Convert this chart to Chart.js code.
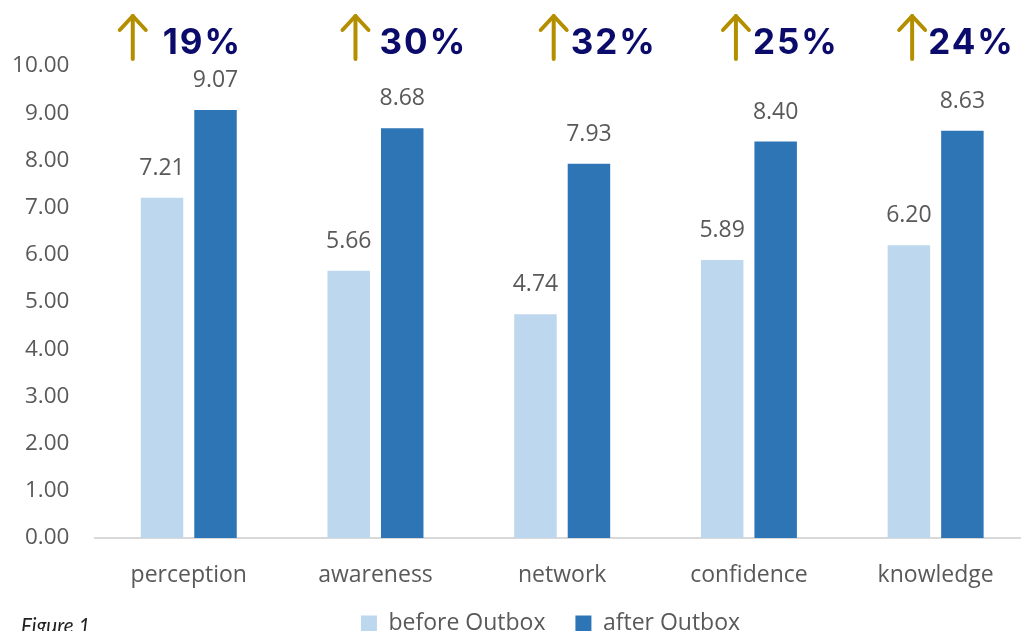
<!DOCTYPE html>
<html>
<head>
<meta charset="utf-8">
<script src="https://cdn.jsdelivr.net/npm/chart.js@4.4.1/dist/chart.umd.min.js"></script>
<style>
  html, body { margin: 0; padding: 0; background: #ffffff; overflow: hidden; width: 1021px; height: 631px; }
  #wrap { position: absolute; left: 0; top: 0; width: 1030px; height: 656px; }
  #fig { position: absolute; left: 21px; top: 613px; font-family: Lato, "Open Sans", sans-serif; font-style: italic; font-size: 20.5px; line-height: 24px; color: #222222; }
</style>
</head>
<body>
<div id="wrap"><canvas id="c"></canvas></div>
<div id="fig">Figure 1</div>
<script>
// ---- data ----
const categories = ["perception", "awareness", "network", "confidence", "knowledge"];
const beforeValues = [7.21, 5.66, 4.74, 5.89, 6.20];
const afterValues = [9.07, 8.68, 7.93, 8.40, 8.63];
const improvementPct = [19, 30, 32, 25, 24];
const seriesNames = ["before Outbox", "after Outbox"];
const yTicks = [0, 1, 2, 3, 4, 5, 6, 7, 8, 9, 10];

// ---- styling / layout (not data) ----
const arrowDx = [-56, -20, -8.5, -13, -23.5];
const pctTextDx = [-26, 4, 8.5, 4, -7.5];
const labelColor = "#595959";
const baseFont = "'Open Sans', 'Liberation Sans', sans-serif";

const valueLabels = {
  id: "valueLabels",
  afterDatasetsDraw(chart) {
    const ctx = chart.ctx;
    ctx.save();
    ctx.font = "23px " + baseFont;
    ctx.fillStyle = labelColor;
    ctx.textAlign = "center";
    ctx.textBaseline = "middle";
    chart.data.datasets.forEach((ds, di) => {
      const meta = chart.getDatasetMeta(di);
      meta.data.forEach((bar, i) => {
        ctx.fillText(Number(ds.data[i]).toFixed(2), bar.x, bar.y - 29.5);
      });
    });
    ctx.restore();
  }
};

const legendShift = {
  id: "legendShift",
  afterLayout(chart) {
    const lg = chart.legend;
    if (!lg) return;
    lg.left += 36; lg.right += 36;
    lg.top -= 11; lg.bottom -= 11;
  }
};

const pctAnnotations = {
  id: "pctAnnotations",
  afterDraw(chart) {
    const ctx = chart.ctx;
    const xs = chart.scales.x;
    ctx.save();
    improvementPct.forEach((p, i) => {
      const cx = xs.getPixelForValue(i);
      const ax = cx + arrowDx[i];
      ctx.strokeStyle = "#B38F00";
      ctx.lineWidth = 4;
      ctx.lineCap = "round";
      ctx.lineJoin = "round";
      ctx.beginPath();
      ctx.moveTo(ax, 59);
      ctx.lineTo(ax, 16);
      ctx.stroke();
      ctx.beginPath();
      ctx.moveTo(ax - 13, 30);
      ctx.lineTo(ax, 16);
      ctx.lineTo(ax + 13, 30);
      ctx.stroke();
      ctx.fillStyle = "#0B0B6B";
      ctx.font = "bold 35px Inter, 'Open Sans', sans-serif";
      try { ctx.letterSpacing = "2px"; } catch (e) {}
      ctx.textAlign = "left";
      ctx.textBaseline = "alphabetic";
      ctx.fillText(p + "%", cx + pctTextDx[i], 54);
      try { ctx.letterSpacing = "0px"; } catch (e) {}
    });
    ctx.restore();
  }
};

new Chart(document.getElementById("c"), {
  type: "bar",
  data: {
    labels: categories,
    datasets: [
      { label: seriesNames[0], data: beforeValues, backgroundColor: "#BDD7EE", borderWidth: 0 },
      { label: seriesNames[1], data: afterValues, backgroundColor: "#2E75B6", borderWidth: 0 }
    ]
  },
  options: {
    responsive: true,
    maintainAspectRatio: false,
    animation: false,
    devicePixelRatio: 1,
    layout: { padding: { top: 66, left: 0, right: 1, bottom: 0 } },
    datasets: { bar: { categoryPercentage: 0.573, barPercentage: 0.794 } },
    plugins: {
      legend: {
        position: "bottom",
        labels: {
          boxWidth: 16,
          boxHeight: 16,
          padding: 30,
          color: labelColor,
          font: { family: baseFont, size: 23 }
        }
      },
      tooltip: { enabled: false },
      title: { display: false }
    },
    scales: {
      x: {
        grid: { display: false, drawTicks: false },
        border: { display: true, color: "#D9D9D9", width: 2 },
        ticks: { color: labelColor, font: { family: baseFont, size: 23 }, padding: 24, maxRotation: 0 },
        afterFit(scale) { scale.height = 55; }
      },
      y: {
        min: 0,
        max: 10,
        afterBuildTicks(scale) { scale.ticks = yTicks.map(v => ({ value: v })); },
        grid: { display: false, drawTicks: false },
        border: { display: false },
        ticks: {
          color: labelColor,
          font: { family: baseFont, size: 22.5 },
          padding: 26,
          callback: v => Number(v).toFixed(2)
        },
        afterFit(scale) { scale.width = 95.4; }
      }
    }
  },
  plugins: [valueLabels, legendShift, pctAnnotations]
});
</script>
</body>
</html>
